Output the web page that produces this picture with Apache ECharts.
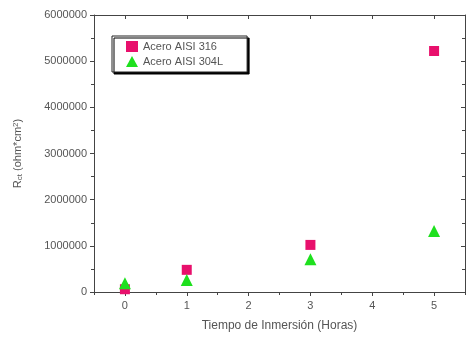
<!DOCTYPE html>
<html><head><meta charset="utf-8">
<script src="https://cdn.jsdelivr.net/npm/echarts@6/dist/echarts.min.js"></script>
<style>html,body{margin:0;padding:0;background:#fff}#c{width:467px;height:338px}</style>
</head><body><div id="c"></div>
<script>
const hours = [0, 1, 3, 5];
const acero316 = [60000, 480000, 1020000, 5220000];
const acero304L = [190000, 260000, 710000, 1320000];
const xTicks = [0, 1, 2, 3, 4, 5];
const xMinorTicks = [-0.5, 0.5, 1.5, 2.5, 3.5, 4.5, 5.5];
const seriesNames = ['Acero AISI 316', 'Acero AISI 304L'];

const txt = '#555';
const font = 'Liberation Sans, Arial, sans-serif';
const chart = echarts.init(document.getElementById('c'));
const axisLine = {show: true, onZero: false, lineStyle: {color: '#444', width: 1}};
chart.setOption({
  animation: false,
  backgroundColor: '#fff',
  grid: {left: 94, right: 2, top: 15, bottom: 46},
  legend: {
    left: 112, top: 36, orient: 'vertical', itemGap: 4, itemWidth: 12, itemHeight: 11,
    padding: [5, 24, 5, 14],
    borderColor: '#222', borderWidth: 1, backgroundColor: '#fff',
    shadowColor: '#000', shadowOffsetX: 2, shadowOffsetY: 2, shadowBlur: 0,
    textStyle: {color: '#555', fontSize: 11, fontFamily: font},
    data: [{name: seriesNames[0], icon: 'rect'}, {name: seriesNames[1], icon: 'triangle'}]
  },
  xAxis: [
    {type: 'value', min: -0.5, max: 5.5, position: 'bottom',
     name: 'Tiempo de Inmersión (Horas)', nameLocation: 'middle', nameGap: 28,
     nameTextStyle: {color: txt, fontSize: 12, fontFamily: font},
     axisLine: axisLine, splitLine: {show: false},
     axisTick: {show: true, customValues: xTicks, length: 4, inside: false, lineStyle: {color: '#444'}},
     axisLabel: {customValues: xTicks, color: txt, fontSize: 11, fontFamily: font, margin: 8}},
    {type: 'value', min: -0.5, max: 5.5, position: 'bottom',
     axisLine: {show: false, onZero: false}, splitLine: {show: false}, axisLabel: {show: false},
     axisTick: {show: true, customValues: xMinorTicks, length: 3, lineStyle: {color: '#444'}}},
    {type: 'value', min: -0.5, max: 5.5, position: 'top',
     axisLine: axisLine, splitLine: {show: false}, axisLabel: {show: false},
     axisTick: {show: true, customValues: xTicks, inside: true, length: 4, lineStyle: {color: '#444'}}}
  ],
  yAxis: [
    {type: 'value', min: 0, max: 6000000, interval: 1000000, position: 'left',
     name: '{r|R}{s|ct}{r| (ohm*cm}{p|2}{r|)}', nameLocation: 'middle', nameGap: 70, nameRotate: 90,
     nameTextStyle: {color: txt, rich: {
       r: {fontSize: 11, fontFamily: font, color: txt},
       s: {fontSize: 8, fontFamily: font, color: txt, verticalAlign: 'bottom', padding: [4, 0, 0, 0]},
       p: {fontSize: 8, fontFamily: font, color: txt, verticalAlign: 'top', padding: [0, 0, 4, 0]}}},
     axisLine: axisLine, splitLine: {show: false},
     axisTick: {show: true, length: 4, lineStyle: {color: '#444'}},
     minorTick: {show: true, splitNumber: 2, length: 3, lineStyle: {color: '#444'}},
     axisLabel: {color: txt, fontSize: 11, fontFamily: font, margin: 7, formatter: v => String(v)}},
    {type: 'value', min: 0, max: 6000000, interval: 1000000, position: 'right',
     axisLine: axisLine, splitLine: {show: false}, axisLabel: {show: false},
     axisTick: {show: true, inside: true, length: 4, lineStyle: {color: '#444'}},
     minorTick: {show: true, splitNumber: 2, length: 3, lineStyle: {color: '#444'}}}
  ],
  series: [
    {name: seriesNames[0], type: 'scatter', symbol: 'rect', symbolSize: 10,
     itemStyle: {color: '#e8106c', opacity: 1}, data: hours.map((h, i) => [h, acero316[i]])},
    {name: seriesNames[1], type: 'scatter', symbol: 'triangle', symbolSize: 12,
     itemStyle: {color: '#1ee01e', opacity: 1}, data: hours.map((h, i) => [h, acero304L[i]])}
  ]
});
</script></body></html>
